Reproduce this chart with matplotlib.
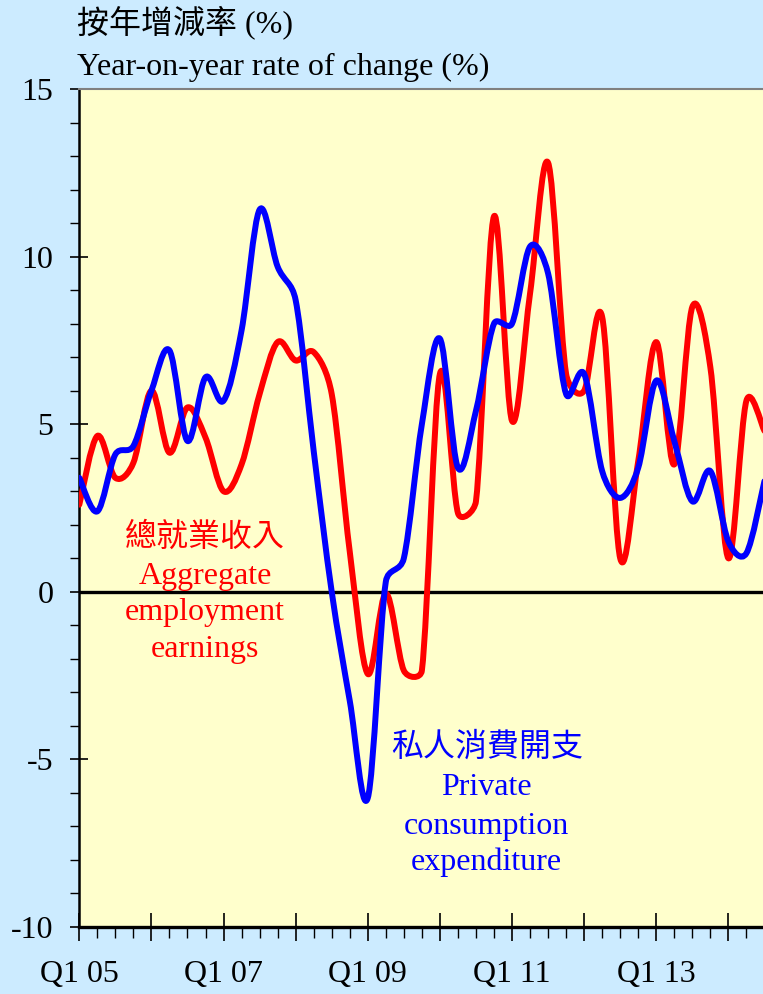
"""
Private consumption expenditure vs aggregate employment earnings,
year-on-year rate of change, quarterly Q1 2005 onwards.
"""

import matplotlib
matplotlib.use("Agg")
import matplotlib.pyplot as plt
import numpy as np
from matplotlib.path import Path
from matplotlib.patches import PathPatch
from matplotlib.ticker import MultipleLocator

# ----------------------------------------------------------------------------
# Data (quarter index 0 = Q1 05)
# ----------------------------------------------------------------------------
QUARTERS = list(range(39))

PCE = [3.4, 2.4, 4.1, 4.35, 6.0, 7.2, 4.5, 6.4, 5.7, 7.8,
       11.4, 9.7, 8.7, 4.2, 0.0, -3.25, -6.15, 0.3, 1.0, 5.0,
       7.55, 3.7, 5.4, 8.0, 8.0, 10.3, 9.5, 5.9, 6.5, 3.6,
       2.8, 3.7, 6.3, 4.5, 2.7, 3.6, 1.5, 1.15, 3.3]

EARNINGS = [2.6, 4.65, 3.4, 3.85, 6.0, 4.15, 5.5, 4.6, 3.0, 3.8,
            5.9, 7.45, 6.9, 7.15, 5.9, 1.2, -2.45, -0.05, -2.35, -2.35,
            6.5, 2.35, 2.7, 11.2, 5.1, 8.9, 12.8, 6.5, 6.0, 8.2,
            1.0, 3.9, 7.45, 3.8, 8.5, 6.7, 1.0, 5.7, 4.8]

XTICK_POS = [0, 8, 16, 24, 32]
XTICK_LABELS = ["Q1 05", "Q1 07", "Q1 09", "Q1 11", "Q1 13"]

BG_FIG = "#CCEBFF"
BG_AX = "#FFFFCC"
SERIF = ["Liberation Serif", "Noto Sans CJK TC"]
FS = 23

plt.rcParams.update({
    "font.family": SERIF,
    "font.size": FS,
    "axes.unicode_minus": False,
})

W, H = 763, 994
Q_PX = 18.03      # pixels per quarter
U_PX = 33.52      # pixels per percentage point


def smooth_path(x, y, cap=0.5):
    """Smoothed line like a spreadsheet chart: Catmull-Rom style Bezier
    through every point, handles capped by the segment length on screen
    so short flat stretches do not overshoot."""
    pts = np.column_stack([np.asarray(x, float) * Q_PX,
                           np.asarray(y, float) * U_PX])
    n = len(pts)

    def handle(i):
        a = pts[max(i - 1, 0)]
        b = pts[min(i + 1, n - 1)]
        return (b - a) / 6.0

    def clip(h, seg):
        L = np.hypot(*h)
        lim = cap * seg
        return h if L <= lim else h * lim / L

    verts = [pts[0]]
    codes = [Path.MOVETO]
    for i in range(n - 1):
        p1, p2 = pts[i], pts[i + 1]
        seg = np.hypot(*(p2 - p1))
        c1 = p1 + clip(handle(i), seg)
        c2 = p2 - clip(handle(i + 1), seg)
        verts += [c1, c2, p2]
        codes += [Path.CURVE4] * 3
    verts = np.array(verts) / [Q_PX, U_PX]
    return Path(verts, codes)


def main():
    fig = plt.figure(figsize=(W / 100, H / 100), dpi=100, facecolor=BG_FIG)

    xmax = 38.5
    left, bottom, top = 79.3, 67, 905
    ax = fig.add_axes([left / W, bottom / H, xmax * Q_PX / W, (top - bottom) / H])
    ax.set_facecolor(BG_AX)
    ax.set_xlim(0, xmax)
    ax.set_ylim(-10, 15)

    for vals, col in [(EARNINGS, "#FF0000"), (PCE, "#0000FF")]:
        ax.add_patch(PathPatch(smooth_path(QUARTERS, vals), facecolor="none",
                               edgecolor=col, lw=4.3, capstyle="round",
                               joinstyle="round", zorder=3))

    ax.axhline(0, color="black", lw=2.4, zorder=2)

    # spines
    ax.spines["right"].set_visible(False)
    ax.spines["top"].set_color("#808080")
    ax.spines["top"].set_linewidth(1.5)
    ax.spines["left"].set_linewidth(1.8)
    ax.spines["bottom"].set_linewidth(2.4)

    # ticks
    ax.yaxis.set_minor_locator(MultipleLocator(1))
    ax.set_yticks(range(-10, 16, 5))
    ax.set_yticklabels([str(v) for v in range(-10, 16, 5)])
    ax.xaxis.set_minor_locator(MultipleLocator(1))
    ax.set_xticks(range(0, 39, 4))
    ax.set_xticklabels([XTICK_LABELS[XTICK_POS.index(p)] if p in XTICK_POS else ""
                        for p in range(0, 39, 4)])
    ax.tick_params(axis="y", which="major", direction="inout", length=13,
                   width=1.2, pad=12)
    ax.tick_params(axis="y", which="minor", direction="out", length=6.5,
                   width=1.0)
    ax.tick_params(axis="x", which="major", direction="inout", length=20,
                   width=1.2, pad=14)
    ax.tick_params(axis="x", which="minor", direction="out", length=8,
                   width=1.0)

    # titles
    fig.text(77 / W, 1 - 22 / H, "按年增減率 (%)", ha="left", va="center",
             fontsize=FS, family=SERIF)
    fig.text(77 / W, 1 - 67 / H, "Year-on-year rate of change (%)", ha="left",
             va="center", fontsize=FS, family=SERIF)

    # series labels
    red_lines = ["總就業收入", "Aggregate", "employment", "earnings"]
    red_y = [1.61, 0.45, -0.63, -1.73]
    for s, yy in zip(red_lines, red_y):
        ax.text(6.97, yy, s, color="#FF0000", ha="center", va="center",
                fontsize=FS, zorder=5)

    blue_lines = ["私人消費開支", "Private", "consumption", "expenditure"]
    blue_y = [-4.63, -5.85, -6.99, -8.06]
    for s, yy in zip(blue_lines, blue_y):
        ax.text(22.6, yy, s, color="#0000FF", ha="center", va="center",
                fontsize=FS, zorder=5)

    fig.savefig("out.png", dpi=100, facecolor=BG_FIG)
    plt.close(fig)


if __name__ == "__main__":
    main()
